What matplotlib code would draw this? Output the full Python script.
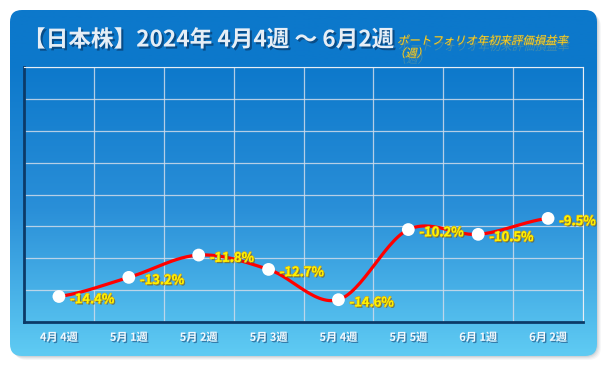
import numpy as np
import matplotlib
matplotlib.use('Agg')
import matplotlib.pyplot as plt
import matplotlib.patheffects as pe
from matplotlib.patches import FancyBboxPatch
from matplotlib.transforms import Affine2D

plt.rcParams['font.family'] = ['Noto Sans CJK JP', 'DejaVu Sans']

# data
weeks = ['4月 4週', '5月 1週', '5月 2週', '5月 3週', '5月 4週', '5月 5週', '6月 1週', '6月 2週']
returns = [-14.4, -13.2, -11.8, -12.7, -14.6, -10.2, -10.5, -9.5]
title = '【日本株】2024年 4月4週 ～ 6月2週'
subtitle = 'ポートフォリオ年初来評価損益率\n（週）'


# smooth line like the spreadsheet "smoothed line" (catmull-rom)
def smooth(xs, ys, steps=30):
    px = np.concatenate([[2 * xs[0] - xs[1]], xs, [2 * xs[-1] - xs[-2]]])
    py = np.concatenate([[ys[0]], ys, [ys[-1]]])
    out_x, out_y = [], []
    for i in range(1, len(px) - 2):
        t = np.linspace(0, 1, steps)
        t2, t3 = t * t, t * t * t
        for p, out in ((px, out_x), (py, out_y)):
            p0, p1, p2, p3 = p[i - 1], p[i], p[i + 1], p[i + 2]
            out.extend(0.5 * (2 * p1 + (-p0 + p2) * t + (2 * p0 - 5 * p1 + 4 * p2 - p3) * t2
                              + (-p0 + 3 * p1 - 3 * p2 + p3) * t3))
    return np.array(out_x), np.array(out_y)


# fake italic for the CJK font (it has no oblique face)
class Slant(pe.AbstractPathEffect):
    def __init__(self, y0, deg=14, dx=0, dy=0, color=None, alpha=1.0):
        super().__init__()
        self.y0, self.deg, self.dx, self.dy = y0, deg, dx, dy
        self.color, self.alpha = color, alpha

    def draw_path(self, renderer, gc, tpath, affine, rgbFace=None):
        shear = Affine2D().translate(0, -self.y0).skew_deg(self.deg, 0).translate(self.dx, self.y0 + self.dy)
        gc0 = renderer.new_gc()
        gc0.copy_properties(gc)
        if self.color is not None:
            rgbFace = matplotlib.colors.to_rgba(self.color)
        gc0.set_alpha(self.alpha)
        renderer.draw_path(gc0, tpath, affine + shear, rgbFace)
        gc0.restore()


fig = plt.figure(figsize=(6.12, 3.71), dpi=100)
fig.patch.set_facecolor('white')

# background box
bg = fig.add_axes([0, 0, 1, 1])
bg.set_xlim(0, 612)
bg.set_ylim(371, 0)
bg.axis('off')

for i, a in enumerate([0.05, 0.07, 0.09, 0.12]):
    s = FancyBboxPatch((10 + 4 - i, 10 + 4 - i), 587, 346, boxstyle='round,pad=0,rounding_size=13',
                       facecolor='#607080', edgecolor='none', alpha=a)
    bg.add_patch(s)

box = FancyBboxPatch((10, 10), 587, 346, boxstyle='round,pad=0,rounding_size=12',
                     facecolor='none', edgecolor='none')
bg.add_patch(box)
grad = np.linspace(0, 1, 256).reshape(-1, 1)
grad = np.clip((grad - 0.15) / 0.85, 0, 1)
cmap = matplotlib.colors.LinearSegmentedColormap.from_list('bluegrad', ['#0c78cb', '#2a8fd8', '#5fcbf3'])
im = bg.imshow(grad, extent=[10, 597, 356, 10], cmap=cmap, aspect='auto', zorder=1)
im.set_clip_path(box)

# titles
bg.text(23, 40, title, color='#e6eef6', fontsize=16.3, fontweight='bold', va='center', ha='left',
        path_effects=[pe.withSimplePatchShadow(offset=(1.5, -1.5), shadow_rgbFace='#08305a', alpha=0.6)],
        zorder=3)
y_sub = 371 - 40
bg.text(398, 47, subtitle, color='#ffd21e', fontsize=8.2, va='center', ha='left',
        linespacing=1.2, zorder=3,
        path_effects=[Slant(y_sub, dx=1, dy=-6, color='#e8c850', alpha=0.25),
                      Slant(y_sub, color='#c09020', dx=0.6, dy=-0.6, alpha=0.6),
                      Slant(y_sub)])

# plot area
ax = fig.add_axes([24 / 612, 1 - 322 / 371, 559 / 612, 255 / 371])
ax.patch.set_alpha(0)
x = np.arange(len(weeks)) + 0.5
ax.set_xlim(0, len(weeks))
ax.set_ylim(-16, 0)
ax.set_xticks(np.arange(len(weeks) + 1))
ax.set_yticks(np.arange(-16, 1, 2))
ax.grid(True, color='#d0dcea', linewidth=0.9, alpha=0.85)
ax.tick_params(length=0, labelleft=False, labelbottom=False)
ax.spines['left'].set_color('#0b3a68')
ax.spines['bottom'].set_color('#0b3a68')
ax.spines['left'].set_linewidth(2)
ax.spines['bottom'].set_linewidth(2)
ax.spines['top'].set_color('#e8eef4')
ax.spines['right'].set_color('#e8eef4')

sx, sy = smooth(x, np.array(returns))
ax.plot(sx, sy, color='#ff0000', linewidth=2.3, zorder=3, solid_capstyle='round')
ax.scatter(x, returns, s=85, color='white', zorder=4, edgecolors='none')

for xi, v in zip(x, returns):
    ax.annotate(f'{v}%', (xi, v), xytext=(8, -2), textcoords='offset points', ha='left', va='center',
                color='#fff200', fontsize=9.3, fontweight='bold', zorder=5,
                path_effects=[pe.withStroke(linewidth=1.2, foreground='#c9a82a'),
                              pe.withSimplePatchShadow(offset=(1, -1), shadow_rgbFace='#6a5a20', alpha=0.6)])

# week labels
for xi, w in zip(x, weeks):
    ax.text(xi, -0.06, w, transform=ax.get_xaxis_transform(), ha='center', va='center',
            color='#f4f8fc', fontsize=8, fontweight='bold',
            path_effects=[pe.withSimplePatchShadow(offset=(1, -1), shadow_rgbFace='#1a4a7a', alpha=0.6)])

fig.savefig('out.png', dpi=100, facecolor='white')
